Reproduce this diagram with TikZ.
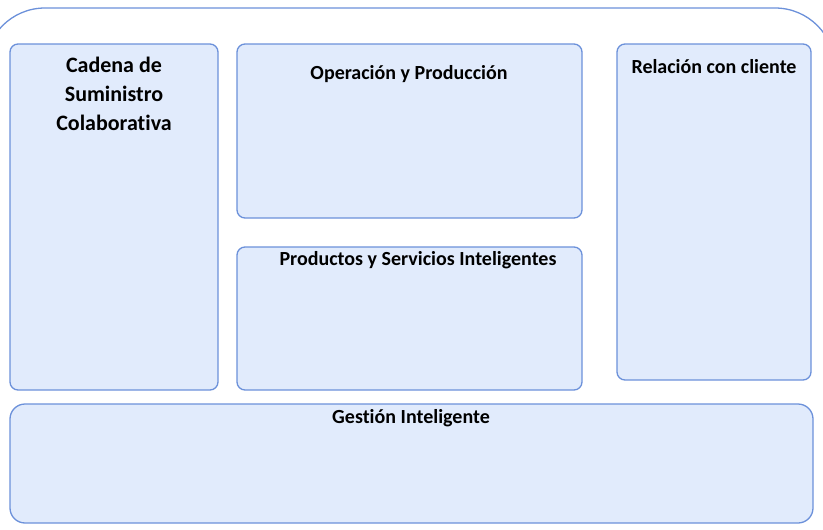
\documentclass[tikz,border=0pt]{standalone}
\usepackage{fontspec}
\setmainfont[Ligatures=NoCommon]{Carlito}
\definecolor{boxfill}{RGB}{225,235,252}
\definecolor{boxline}{RGB}{108,145,218}
\begin{document}
\begin{tikzpicture}[x=1pt,y=-1pt,
  panel/.style={draw=boxline, fill=boxfill, line width=1.3pt, rounded corners=8pt},
  title/.style={font=\bfseries\fontsize{20}{24}\selectfont, text=black, inner sep=0pt},
  bigtitle/.style={font=\bfseries\fontsize{22}{29}\selectfont, text=black, inner sep=0pt, align=center}]
\useasboundingbox (0,0) rectangle (823,530);
\begin{scope}
\clip (0,0) rectangle (823,530);
\draw[draw=boxline, line width=1.3pt, rounded corners=60pt] (-15,8) rectangle (835,620);
\end{scope}
\draw[panel] (10,44) rectangle (218,390);
\draw[panel] (237,44) rectangle (582,218);
\draw[panel] (237,247) rectangle (582,390);
\draw[panel] (617,44) rectangle (811,380);
\draw[panel, rounded corners=15pt] (10,404) rectangle (813,523);
\node[bigtitle] (cad) at (114,94) {Cadena de\\Suministro\\Colaborativa};
\node[title] (op) at (409,74) {Operación y Producción};
\node[title] (pr) at (418,260) {Productos y Servicios Inteligentes};
\node[title] (re) at (714,67) {Relación con cliente};
\node[title] (ge) at (411,418) {Gestión Inteligente};
\end{tikzpicture}
\end{document}
